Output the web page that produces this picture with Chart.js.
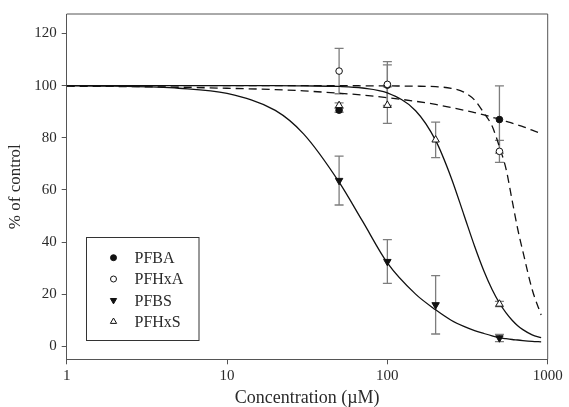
<!DOCTYPE html>
<html>
<head>
<meta charset="utf-8">
<script src="https://cdn.jsdelivr.net/npm/chart.js@4/dist/chart.umd.min.js"></script>
<style>
  html, body { margin: 0; padding: 0; background: #fff; }
</style>
</head>
<body>
<canvas id="c" width="569" height="407"></canvas>
<script>
// --- data ---------------------------------------------------------------
const xTicks = [1, 10, 100, 1000];
const yTicks = [0, 20, 40, 60, 80, 100, 120];

const concAcid  = [50, 100, 500];        // PFBA, PFHxA
const concSulf  = [50, 100, 200, 500];   // PFBS, PFHxS

const pfbaMean  = [90.6, 100.2, 87.0];
const pfbaErr   = [0.8, 7.8, 12.9];
const pfhxaMean = [105.6, 100.5, 74.8];
const pfhxaErr  = [8.7, 8.7, 4.2];
const pfbsMean  = [63.6, 32.5, 15.9, 3.2];
const pfbsErr   = [9.4, 8.4, 11.2, 1.4];
const pfhxsMean = [92.4, 92.5, 79.2, 16.2];
const pfhxsErr  = [1.0, 7.0, 6.8, 1.0];

// fitted curves
const fitX     = [1, 2, 5, 10, 20, 30, 50, 70, 100, 150, 200, 250, 300, 350, 400, 450, 500, 550, 600, 650, 700, 800, 910];
const fitPFBS  = [100, 99.8, 99.0, 97.0, 90.5, 81.5, 63, 48, 32, 20, 14, 10, 7.6, 6.0, 4.9, 4.0, 3.3, 2.9, 2.6, 2.4, 2.2, 1.9, 1.7];
const fitPFHxS = [100, 100, 100, 100, 100, 99.9, 99.7, 99.1, 97.2, 90.4, 79, 64.7, 50.5, 38.4, 28.9, 21.8, 16.6, 12.8, 10, 7.9, 6.4, 4.4, 3.3];
const fitPFHxA = [100, 100, 100, 100, 100, 100, 100, 99.95, 99.9, 99.8, 99.6, 99.0, 97.5, 94.5, 89.5, 84.5, 76.5, 68, 56, 45, 36.4, 21.8, 12];
const fitPFBA  = [99.8, 99.7, 99.4, 99.0, 98.5, 98.0, 97.1, 96.4, 95.4, 94.0, 92.8, 91.6, 90.6, 89.7, 88.8, 87.9, 87.1, 86.3, 85.6, 84.9, 84.3, 82.9, 81.7];

// --- helpers --------------------------------------------------------------
const FONT = "'Liberation Serif', 'Times New Roman', serif";
const INK = '#2a2a2a';
const pts = (xs, ys) => xs.map((x, i) => ({ x, y: ys[i] }));

const curve = (ys, dashed) => ({
  type: 'line', data: pts(fitX, ys), borderColor: '#111', borderWidth: 1.3,
  borderDash: dashed ? [8, 5] : [], pointRadius: 0, cubicInterpolationMode: 'monotone',
  fill: false, inLegend: false, order: 10
});
// lower "order" is painted on top
const marker = (label, xs, ys, errs, style, filled, rot, r, order) => ({
  type: 'line', label, data: pts(xs, ys), errors: errs, showLine: false,
  pointStyle: style, pointRotation: rot, pointRadius: r,
  pointBackgroundColor: filled ? '#111' : '#fff', pointBorderColor: '#111',
  pointBorderWidth: 1, inLegend: true, order
});

/* error bars + top/right frame ----------------------------------------- */
const errorBars = {
  id: 'errorBars',
  beforeDatasetsDraw(chart) {
    const { ctx, chartArea: a, scales: { x, y } } = chart;
    ctx.save();
    ctx.strokeStyle = '#555'; ctx.lineWidth = 1;
    ctx.beginPath();
    ctx.moveTo(a.left, a.top); ctx.lineTo(a.right, a.top); ctx.lineTo(a.right, a.bottom);
    ctx.stroke();
    ctx.strokeStyle = '#7d7d7d'; ctx.lineWidth = 1.3;
    chart.data.datasets.forEach(ds => {
      if (!ds.errors) return;
      ds.data.forEach((p, i) => {
        const px = x.getPixelForValue(p.x);
        const t = y.getPixelForValue(p.y + ds.errors[i]);
        const b = y.getPixelForValue(p.y - ds.errors[i]);
        ctx.beginPath();
        ctx.moveTo(px, t); ctx.lineTo(px, b);
        ctx.moveTo(px - 4.5, t); ctx.lineTo(px + 4.5, t);
        ctx.moveTo(px - 4.5, b); ctx.lineTo(px + 4.5, b);
        ctx.stroke();
      });
    });
    ctx.restore();
  }
};

/* boxed legend in the lower left --------------------------------------- */
const boxLegend = {
  id: 'boxLegend',
  afterDraw(chart) {
    const { ctx } = chart;
    const items = chart.data.datasets.filter(d => d.inLegend);
    ctx.save();
    ctx.strokeStyle = '#333'; ctx.lineWidth = 1;
    ctx.strokeRect(86.5, 237.5, 112.5, 103);
    ctx.font = '16px ' + FONT; ctx.fillStyle = INK;
    ctx.textBaseline = 'middle'; ctx.textAlign = 'left';
    items.forEach((d, i) => {
      const yy = 257.7 + i * 21.3;
      ctx.fillStyle = d.pointBackgroundColor; ctx.strokeStyle = d.pointBorderColor;
      ctx.lineWidth = 1;
      Chart.helpers.drawPoint(ctx, {
        pointStyle: d.pointStyle, rotation: d.pointRotation,
        radius: d.pointStyle === 'triangle' ? 3.6 : 3, borderWidth: 1
      }, 113.5, yy);
      ctx.fillStyle = INK;
      ctx.fillText(d.label, 134.5, yy + 1);
    });
    ctx.restore();
  }
};

new Chart(document.getElementById('c'), {
  type: 'line',
  data: {
    datasets: [
      curve(fitPFBS, false),
      curve(fitPFHxS, false),
      curve(fitPFHxA, true),
      curve(fitPFBA, true),
      marker('PFBA',  concAcid, pfbaMean,  pfbaErr,  'circle',   true,  0,   3.3, 4),
      marker('PFHxA', concAcid, pfhxaMean, pfhxaErr, 'circle',   false, 0,   3.3, 3),
      marker('PFBS',  concSulf, pfbsMean,  pfbsErr,  'triangle', true,  180, 4.3, 2),
      marker('PFHxS', concSulf, pfhxsMean, pfhxsErr, 'triangle', false, 0,   4.3, 1)
    ]
  },
  options: {
    responsive: false, animation: false, devicePixelRatio: 1,
    layout: { padding: { top: 12.7, right: 21.3, left: 0, bottom: 0 } },
    plugins: { legend: { display: false }, tooltip: { enabled: false } },
    scales: {
      x: {
        type: 'logarithmic', min: 1, max: 1000,
        afterBuildTicks: s => { s.ticks = xTicks.map(v => ({ value: v })); },
        afterFit: s => { s.height = 47.7; },
        grid: { drawOnChartArea: false, tickLength: 5, color: '#555' },
        border: { color: '#555', width: 1 },
        ticks: { color: INK, font: { family: FONT, size: 15 }, padding: 3,
                 maxRotation: 0, autoSkip: false, callback: v => String(v) },
        title: { display: true, text: 'Concentration (µM)', color: INK,
                 font: { family: FONT, size: 18, lineHeight: 1 }, padding: 0 }
      },
      y: {
        min: -5, max: 127.5,
        afterBuildTicks: s => { s.ticks = yTicks.map(v => ({ value: v })); },
        afterFit: s => { s.width = 66.7; },
        grid: { drawOnChartArea: false, tickLength: 5, color: '#555' },
        border: { color: '#555', width: 1 },
        ticks: { color: INK, font: { family: FONT, size: 15 }, padding: 5 },
        title: { display: true, text: '% of control', color: INK,
                 font: { family: FONT, size: 17, lineHeight: 1.2 }, padding: { top: 5 } }
      }
    }
  },
  plugins: [errorBars, boxLegend]
});
</script>
</body>
</html>
